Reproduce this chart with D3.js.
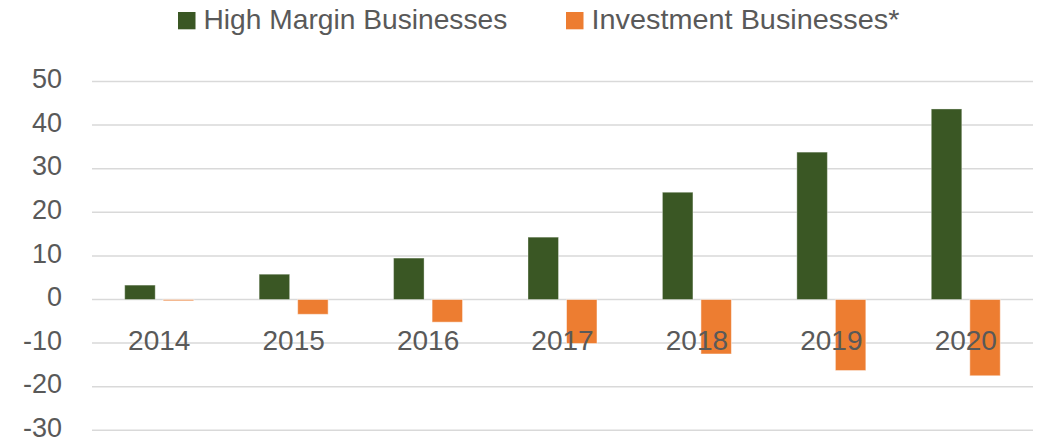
<!DOCTYPE html>
<meta charset="utf-8">
<style>
body { margin: 0; background: #fff; }
text { font-family: "Liberation Sans", Arial, sans-serif; fill: #595959; }
</style>
<html>
<head><title>Businesses</title></head>
<body>
<svg id="chart" width="1038" height="442"></svg>
</body>
</html>
<script src="https://cdn.jsdelivr.net/npm/d3@7"></script>
<script>
// data
var years = ["2014", "2015", "2016", "2017", "2018", "2019", "2020"];
var highMargin = [3.3, 5.8, 9.5, 14.3, 24.6, 33.8, 43.7];
var investment = [-0.3, -3.4, -5.2, -10.1, -12.5, -16.3, -17.5];
var yTicks = [-30, -20, -10, 0, 10, 20, 30, 40, 50];
var seriesNames = ["High Margin Businesses", "Investment Businesses*"];
var colors = ["#3a5724", "#ed7d31"];

var svg = d3.select("#chart");

var x = d3.scaleBand().domain(years).range([92, 1033]);
var y = d3.scaleLinear().domain([-30, 50]).range([430.3, 81.5]);

var barW = 30.5, gap = 8;

// gridlines
svg.append("g").selectAll("line")
  .data(yTicks)
  .enter().append("line")
    .attr("x1", 92).attr("x2", 1033)
    .attr("y1", function(d) { return y(d); })
    .attr("y2", function(d) { return y(d); })
    .attr("stroke", "#d9d9d9")
    .attr("stroke-width", 1.5);

// y labels
svg.append("g").selectAll("text")
  .data(yTicks)
  .enter().append("text")
    .attr("x", 62)
    .attr("y", function(d) { return y(d); })
    .attr("dy", "0.25em")
    .attr("text-anchor", "end")
    .style("font-size", "27px")
    .text(function(d) { return d; });

// green bars
svg.append("g").selectAll("rect")
  .data(highMargin)
  .enter().append("rect")
    .attr("x", function(d, i) { return x(years[i]) + x.bandwidth() / 2 - gap / 2 - barW; })
    .attr("y", function(d) { return y(Math.max(0, d)); })
    .attr("width", barW)
    .attr("height", function(d) { return Math.abs(y(d) - y(0)); })
    .attr("fill", colors[0])
    .attr("stroke", "rgba(255,255,255,0.35)")
    .attr("stroke-width", 1);

// orange bars
svg.append("g").selectAll("rect")
  .data(investment)
  .enter().append("rect")
    .attr("x", function(d, i) { return x(years[i]) + x.bandwidth() / 2 + gap / 2; })
    .attr("y", function(d) { return y(Math.max(0, d)); })
    .attr("width", barW)
    .attr("height", function(d) { return Math.abs(y(d) - y(0)); })
    .attr("fill", colors[1])
    .attr("stroke", "rgba(255,255,255,0.5)")
    .attr("stroke-width", 1);

// x labels (drawn over bars)
svg.append("g").selectAll("text")
  .data(years)
  .enter().append("text")
    .attr("x", function(d) { return x(d) + x.bandwidth() / 2; })
    .attr("y", 350)
    .attr("text-anchor", "middle")
    .style("font-size", "28px")
    .text(function(d) { return d; });

// legend
var legendX = [178, 566];
var legendW = [304, 308];
var leg = svg.append("g").attr("class", "legend").selectAll("g")
  .data(seriesNames)
  .enter().append("g");

leg.append("rect")
  .attr("x", function(d, i) { return legendX[i]; })
  .attr("y", 12)
  .attr("width", 17.5)
  .attr("height", 17.3)
  .attr("fill", function(d, i) { return colors[i]; });

// fit text to the width seen in the picture
leg.append("text")
  .style("font-size", "28.5px")
  .text(function(d) { return d; })
  .attr("transform", function(d, i) {
    var k = legendW[i] / this.getComputedTextLength();
    return "translate(" + (legendX[i] + 25.5) + ",28.5) scale(" + k + ",1)";
  });
</script>
